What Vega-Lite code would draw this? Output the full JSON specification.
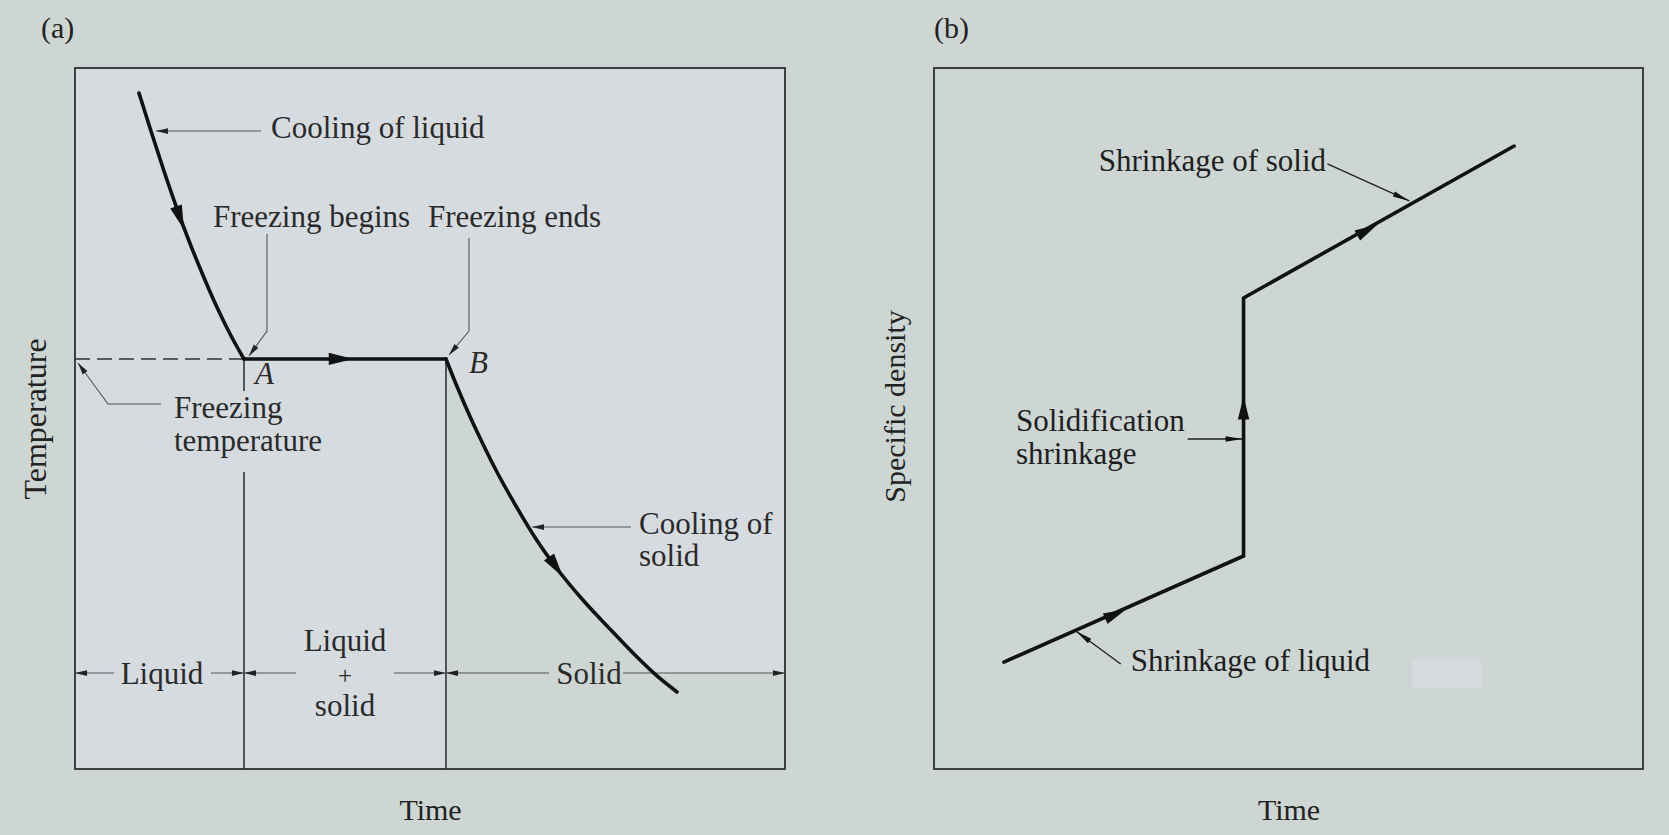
{
  "$schema": "https://vega.github.io/schema/vega-lite/v6.json",
  "background": "#cdd6d2",
  "padding": {"left": 18, "top": 13, "right": 28, "bottom": 18},
  "autosize": {"type": "pad"},
  "bounds": "flush",
  "spacing": 149,
  "config": {
    "font": "Liberation Serif",
    "axis": {"labels": false, "ticks": false, "domain": false, "grid": false, "titleFont": "Liberation Serif", "titleFontSize": 30, "titleFontWeight": "normal", "titleColor": "#222222"},
    "title": {"font": "Liberation Serif", "fontSize": 30, "fontWeight": "normal", "color": "#222222", "anchor": "start", "frame": "group", "baseline": "alphabetic"}
  },
  "hconcat": [
    {
      "width": 710,
      "height": 701,
      "title": {"text": "(a)", "dx": -34, "offset": 24},
      "view": {"fill": "#d6dbdf", "stroke": "#3b4040", "strokeWidth": 2},
      "layer": [
        {
          "data": {"values": [{"t": 52.25, "t2": 99.86, "v": 0.14, "v2": 13.69}]},
          "mark": {"type": "rect", "color": "#cdd6d2"},
          "encoding": {
            "x": {"field": "t", "type": "quantitative", "scale": {"domain": [0, 100], "nice": false, "zero": false}, "axis": {"title": "Time", "titlePadding": 50, "titleBaseline": "alphabetic"}},
            "x2": {"field": "t2"},
            "y": {"field": "v", "type": "quantitative", "scale": {"domain": [0, 100], "nice": false, "zero": false}, "axis": {"title": "Temperature", "titlePadding": 30, "titleBaseline": "alphabetic", "titleFontSize": 32}},
            "y2": {"field": "v2"}
          }
        },
        {
          "data": {"values": [
            {"t": 52.25, "v": 58.49}, {"t": 53.66, "v": 54.92}, {"t": 55.35, "v": 50.93}, {"t": 57.32, "v": 46.65},
            {"t": 59.58, "v": 42.08}, {"t": 62.11, "v": 37.52}, {"t": 64.93, "v": 32.81}, {"t": 68.03, "v": 28.39},
            {"t": 71.41, "v": 24.25}, {"t": 75.07, "v": 20.26}, {"t": 79.01, "v": 16.12}, {"t": 81.97, "v": 13.27},
            {"t": 84.79, "v": 10.98}
          ]},
          "mark": {"type": "area", "color": "#cdd6d2", "interpolate": "monotone", "opacity": 1},
          "encoding": {
            "x": {"field": "t", "type": "quantitative"},
            "y": {"field": "v", "type": "quantitative"},
            "y2": {"datum": 0.14}
          }
        },
        {
          "data": {"values": [
            {"t": 23.8, "v": 58.49, "v2": 53.92},
            {"t": 23.8, "v": 42.37, "v2": 0},
            {"t": 52.25, "v": 58.49, "v2": 0}
          ]},
          "mark": {"type": "rule", "color": "#333333", "strokeWidth": 1.6},
          "encoding": {
            "x": {"field": "t", "type": "quantitative"},
            "y": {"field": "v", "type": "quantitative"},
            "y2": {"field": "v2"}
          }
        },
        {
          "data": {"values": [{"t": 0, "t2": 23.8, "v": 58.49}]},
          "mark": {"type": "rule", "color": "#333333", "strokeWidth": 1.6, "strokeDash": [15, 7]},
          "encoding": {
            "x": {"field": "t", "type": "quantitative"},
            "x2": {"field": "t2"},
            "y": {"field": "v", "type": "quantitative"}
          }
        },
        {
          "data": {"values": [
            {"t": 0, "t2": 5.49, "v": 13.69}, {"t": 19.15, "t2": 23.8, "v": 13.69},
            {"t": 23.8, "t2": 31.13, "v": 13.69}, {"t": 44.93, "t2": 52.25, "v": 13.69},
            {"t": 52.25, "t2": 66.76, "v": 13.69}, {"t": 77.18, "t2": 100, "v": 13.69}
          ]},
          "mark": {"type": "rule", "color": "#555555", "strokeWidth": 1.1},
          "encoding": {
            "x": {"field": "t", "type": "quantitative"},
            "x2": {"field": "t2"},
            "y": {"field": "v", "type": "quantitative"}
          }
        },
        {
          "data": {"values": [
            {"id": "L1", "o": 1, "t": 11.41, "v": 91.01}, {"id": "L1", "o": 2, "t": 26.2, "v": 91.01},
            {"id": "L2", "o": 1, "t": 27.04, "v": 76.32}, {"id": "L2", "o": 2, "t": 27.04, "v": 62.48}, {"id": "L2", "o": 3, "t": 24.51, "v": 58.92},
            {"id": "L3", "o": 1, "t": 55.49, "v": 75.75}, {"id": "L3", "o": 2, "t": 55.49, "v": 62.48}, {"id": "L3", "o": 3, "t": 52.68, "v": 59.06},
            {"id": "L4", "o": 1, "t": 12.11, "v": 52.07}, {"id": "L4", "o": 2, "t": 4.65, "v": 52.07}, {"id": "L4", "o": 3, "t": 0.42, "v": 57.92},
            {"id": "L5", "o": 1, "t": 78.31, "v": 34.52}, {"id": "L5", "o": 2, "t": 64.37, "v": 34.52}
          ]},
          "mark": {"type": "line", "color": "#555555", "strokeWidth": 1.1},
          "encoding": {
            "x": {"field": "t", "type": "quantitative"},
            "y": {"field": "v", "type": "quantitative"},
            "detail": {"field": "id"},
            "order": {"field": "o"}
          }
        },
        {
          "data": {"values": [
            {"id": "liquid", "o": 1, "t": 9.01, "v": 96.43}, {"id": "liquid", "o": 2, "t": 10.70, "v": 91.01},
            {"id": "liquid", "o": 3, "t": 12.39, "v": 85.73}, {"id": "liquid", "o": 4, "t": 14.23, "v": 80.31},
            {"id": "liquid", "o": 5, "t": 16.06, "v": 75.32}, {"id": "liquid", "o": 6, "t": 17.89, "v": 70.76},
            {"id": "liquid", "o": 7, "t": 19.72, "v": 66.48}, {"id": "liquid", "o": 8, "t": 21.69, "v": 62.34},
            {"id": "liquid", "o": 9, "t": 23.80, "v": 58.49},
            {"id": "plateau", "o": 1, "t": 23.80, "v": 58.49}, {"id": "plateau", "o": 2, "t": 52.25, "v": 58.49},
            {"id": "solid", "o": 1, "t": 52.25, "v": 58.49}, {"id": "solid", "o": 2, "t": 53.66, "v": 54.92},
            {"id": "solid", "o": 3, "t": 55.35, "v": 50.93}, {"id": "solid", "o": 4, "t": 57.32, "v": 46.65},
            {"id": "solid", "o": 5, "t": 59.58, "v": 42.08}, {"id": "solid", "o": 6, "t": 62.11, "v": 37.52},
            {"id": "solid", "o": 7, "t": 64.93, "v": 32.81}, {"id": "solid", "o": 8, "t": 68.03, "v": 28.39},
            {"id": "solid", "o": 9, "t": 71.41, "v": 24.25}, {"id": "solid", "o": 10, "t": 75.07, "v": 20.26},
            {"id": "solid", "o": 11, "t": 79.01, "v": 16.12}, {"id": "solid", "o": 12, "t": 81.97, "v": 13.27},
            {"id": "solid", "o": 13, "t": 84.79, "v": 10.98}
          ]},
          "mark": {"type": "line", "color": "#111111", "strokeWidth": 3.6, "interpolate": "monotone", "strokeCap": "round"},
          "encoding": {
            "x": {"field": "t", "type": "quantitative"},
            "y": {"field": "v", "type": "quantitative"},
            "detail": {"field": "id"},
            "order": {"field": "o"}
          }
        },
        {
          "data": {"values": [
            {"t": 14.79, "v": 78.60, "a": 161},
            {"t": 37.46, "v": 58.49, "a": 90},
            {"t": 67.75, "v": 28.82, "a": 145}
          ]},
          "mark": {"type": "point", "shape": "M0,-1L0.5,1L-0.5,1Z", "filled": true, "color": "#111111", "opacity": 1, "size": 600, "strokeWidth": 0},
          "encoding": {
            "x": {"field": "t", "type": "quantitative"},
            "y": {"field": "v", "type": "quantitative"},
            "angle": {"field": "a", "type": "quantitative", "scale": null}
          }
        },
        {
          "data": {"values": [
            {"t": 12.25, "v": 91.01, "a": 270},
            {"t": 25.0, "v": 59.61, "a": 216},
            {"t": 53.21, "v": 59.71, "a": 220},
            {"t": 0.92, "v": 57.22, "a": 324},
            {"t": 65.21, "v": 34.52, "a": 270},
            {"t": 0.85, "v": 13.69, "a": 270},
            {"t": 22.95, "v": 13.69, "a": 90},
            {"t": 24.65, "v": 13.69, "a": 270},
            {"t": 51.4, "v": 13.69, "a": 90},
            {"t": 53.1, "v": 13.69, "a": 270},
            {"t": 99.15, "v": 13.69, "a": 90}
          ]},
          "mark": {"type": "point", "shape": "M0,-1L0.48,1L-0.48,1Z", "filled": true, "color": "#222222", "opacity": 1, "size": 144, "strokeWidth": 0},
          "encoding": {
            "x": {"field": "t", "type": "quantitative"},
            "y": {"field": "v", "type": "quantitative"},
            "angle": {"field": "a", "type": "quantitative", "scale": null}
          }
        },
        {
          "data": {"values": [
            {"label": "Cooling of liquid", "t": 27.61, "v": 90.01},
            {"label": "Freezing begins", "t": 19.44, "v": 77.32},
            {"label": "Freezing ends", "t": 49.72, "v": 77.32},
            {"label": "Freezing", "t": 13.94, "v": 50.07},
            {"label": "temperature", "t": 13.94, "v": 45.36},
            {"label": "Cooling of", "t": 79.44, "v": 33.52},
            {"label": "solid", "t": 79.44, "v": 28.96}
          ]},
          "mark": {"type": "text", "align": "left", "baseline": "alphabetic", "fontSize": 31, "color": "#2a2a2a", "font": "Liberation Serif"},
          "encoding": {
            "x": {"field": "t", "type": "quantitative"},
            "y": {"field": "v", "type": "quantitative"},
            "text": {"field": "label"}
          }
        },
        {
          "data": {"values": [
            {"label": "A", "t": 25.35, "v": 54.92},
            {"label": "B", "t": 55.49, "v": 56.49}
          ]},
          "mark": {"type": "text", "align": "left", "baseline": "alphabetic", "fontSize": 31, "fontStyle": "italic", "color": "#2a2a2a", "font": "Liberation Serif"},
          "encoding": {
            "x": {"field": "t", "type": "quantitative"},
            "y": {"field": "v", "type": "quantitative"},
            "text": {"field": "label"}
          }
        },
        {
          "data": {"values": [
            {"label": "Liquid", "t": 12.25, "v": 12.13},
            {"label": "Liquid", "t": 38.03, "v": 16.83},
            {"label": "solid", "t": 38.03, "v": 7.56},
            {"label": "Solid", "t": 72.39, "v": 12.13}
          ]},
          "mark": {"type": "text", "align": "center", "baseline": "alphabetic", "fontSize": 31, "color": "#2a2a2a", "font": "Liberation Serif"},
          "encoding": {
            "x": {"field": "t", "type": "quantitative"},
            "y": {"field": "v", "type": "quantitative"},
            "text": {"field": "label"}
          }
        },
        {
          "data": {"values": [
            {"label": "+", "t": 38.03, "v": 12.1}
          ]},
          "mark": {"type": "text", "align": "center", "baseline": "alphabetic", "fontSize": 25, "color": "#2a2a2a", "font": "Liberation Serif"},
          "encoding": {
            "x": {"field": "t", "type": "quantitative"},
            "y": {"field": "v", "type": "quantitative"},
            "text": {"field": "label"}
          }
        }
      ]
    },
    {
      "width": 709,
      "height": 701,
      "title": {"text": "(b)", "dx": 0, "offset": 24},
      "view": {"fill": "#cdd6d2", "stroke": "#3b4040", "strokeWidth": 2},
      "layer": [
        {
          "data": {"values": [{"t": 67.46, "t2": 77.18, "v": 11.55, "v2": 15.69}]},
          "mark": {"type": "rect", "color": "#d6dadf"},
          "encoding": {
            "x": {"field": "t", "type": "quantitative", "scale": {"domain": [0, 100], "nice": false, "zero": false}, "axis": {"title": "Time", "titlePadding": 50, "titleBaseline": "alphabetic"}},
            "x2": {"field": "t2"},
            "y": {"field": "v", "type": "quantitative", "scale": {"domain": [0, 100], "nice": false, "zero": false}, "axis": {"title": "Specific density", "titlePadding": 30, "titleBaseline": "alphabetic", "titleY": 338}},
            "y2": {"field": "v2"}
          }
        },
        {
          "data": {"values": [
            {"id": "M1", "o": 1, "t": 55.49, "v": 86.31}, {"id": "M1", "o": 2, "t": 67.04, "v": 81.03},
            {"id": "M2", "o": 1, "t": 35.77, "v": 47.08}, {"id": "M2", "o": 2, "t": 43.52, "v": 47.08},
            {"id": "M3", "o": 1, "t": 26.34, "v": 14.98}, {"id": "M3", "o": 2, "t": 20.0, "v": 19.69}
          ]},
          "mark": {"type": "line", "color": "#222222", "strokeWidth": 1.4},
          "encoding": {
            "x": {"field": "t", "type": "quantitative"},
            "y": {"field": "v", "type": "quantitative"},
            "detail": {"field": "id"},
            "order": {"field": "o"}
          }
        },
        {
          "data": {"values": [
            {"o": 1, "t": 9.86, "v": 15.26},
            {"o": 2, "t": 43.66, "v": 30.39},
            {"o": 3, "t": 43.66, "v": 67.19},
            {"o": 4, "t": 81.83, "v": 88.87}
          ]},
          "mark": {"type": "line", "color": "#111111", "strokeWidth": 3.6, "strokeJoin": "miter", "strokeCap": "round"},
          "encoding": {
            "x": {"field": "t", "type": "quantitative"},
            "y": {"field": "v", "type": "quantitative"},
            "order": {"field": "o"}
          }
        },
        {
          "data": {"values": [
            {"t": 25.63, "v": 22.11, "a": 66},
            {"t": 43.66, "v": 51.50, "a": 0},
            {"t": 61.13, "v": 76.89, "a": 61}
          ]},
          "mark": {"type": "point", "shape": "M0,-1L0.5,1L-0.5,1Z", "filled": true, "color": "#111111", "opacity": 1, "size": 529, "strokeWidth": 0},
          "encoding": {
            "x": {"field": "t", "type": "quantitative"},
            "y": {"field": "v", "type": "quantitative"},
            "angle": {"field": "a", "type": "quantitative", "scale": null}
          }
        },
        {
          "data": {"values": [
            {"t": 65.96, "v": 81.53, "a": 114},
            {"t": 42.32, "v": 47.08, "a": 90},
            {"t": 20.97, "v": 18.97, "a": 306}
          ]},
          "mark": {"type": "point", "shape": "M0,-1L0.32,1L-0.32,1Z", "filled": true, "color": "#111111", "opacity": 1, "size": 289, "strokeWidth": 0},
          "encoding": {
            "x": {"field": "t", "type": "quantitative"},
            "y": {"field": "v", "type": "quantitative"},
            "angle": {"field": "a", "type": "quantitative", "scale": null}
          }
        },
        {
          "data": {"values": [
            {"label": "Shrinkage of solid", "t": 23.24, "v": 85.31},
            {"label": "Solidification", "t": 11.55, "v": 48.22},
            {"label": "shrinkage", "t": 11.55, "v": 43.51},
            {"label": "Shrinkage of liquid", "t": 27.75, "v": 13.98}
          ]},
          "mark": {"type": "text", "align": "left", "baseline": "alphabetic", "fontSize": 31, "color": "#1e1e1e", "font": "Liberation Serif"},
          "encoding": {
            "x": {"field": "t", "type": "quantitative"},
            "y": {"field": "v", "type": "quantitative"},
            "text": {"field": "label"}
          }
        }
      ]
    }
  ]
}
